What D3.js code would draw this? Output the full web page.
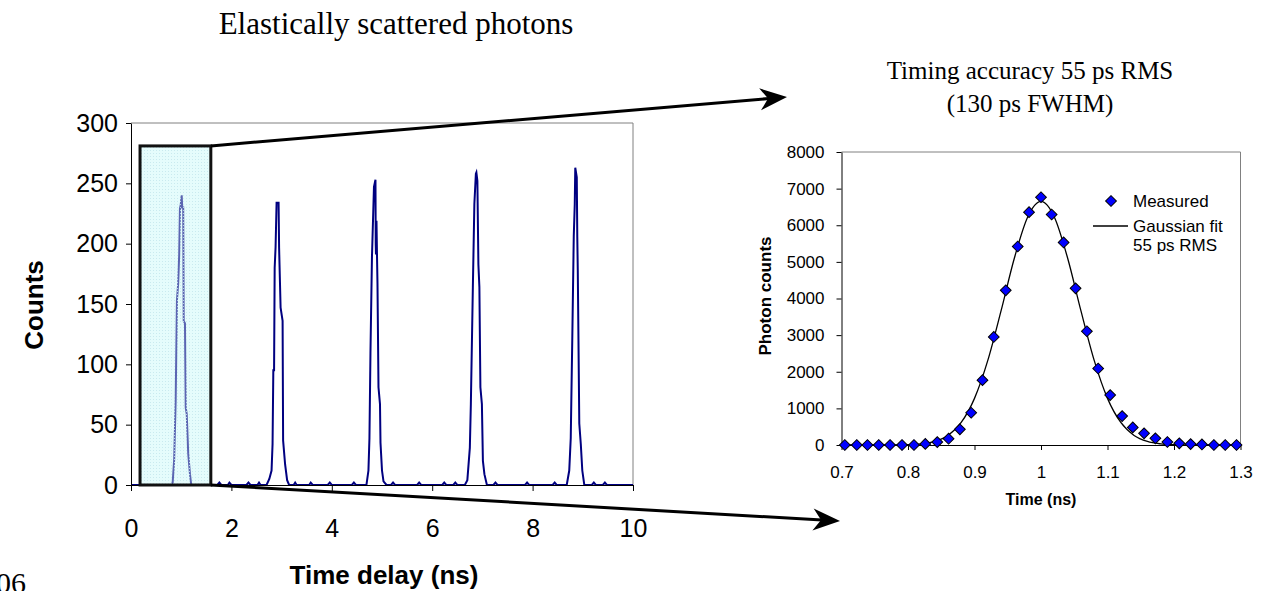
<!DOCTYPE html>
<html>
<head>
<meta charset="utf-8">
<script src="https://cdn.jsdelivr.net/npm/d3@7"></script>
<style>
  body { margin: 0; background: #fff; }
</style>
</head>
<body>
<script>
// ---- left chart: time delay histogram, [ns, counts] ----
const peak1 = [[0.80,0],[0.83,2],[0.86,21],[0.89,70],[0.915,153],[0.94,167],[0.96,191],[0.975,229],[0.99,232],[1.01,240],[1.02,230],[1.04,230],[1.05,136],[1.075,134],[1.09,64],[1.11,59],[1.14,26],[1.175,9],[1.20,0]];
const peak2 = [[2.70,0],[2.755,5],[2.80,12],[2.82,34],[2.835,95],[2.85,95],[2.862,180],[2.88,197],[2.90,234],[2.94,234],[2.95,197],[2.98,147],[3.02,136],[3.03,37],[3.07,17],[3.11,4],[3.15,0]];
const peak3 = [[4.69,0],[4.73,12],[4.75,39],[4.77,109],[4.80,189],[4.84,247],[4.87,253],[4.875,200],[4.88,191],[4.89,219],[4.90,191],[4.91,167],[4.93,81],[4.96,67],[4.97,35],[5.00,12],[5.03,3],[5.09,0]];
const peak4 = [[6.65,0],[6.70,4],[6.75,31],[6.77,67],[6.81,164],[6.84,233],[6.87,258],[6.88,259],[6.90,252],[6.92,183],[6.94,164],[6.96,81],[6.99,67],[7.01,20],[7.04,9],[7.09,0]];
const peak5 = [[8.68,0],[8.73,12],[8.76,39],[8.79,120],[8.82,206],[8.84,233],[8.85,263],[8.88,255],[8.89,206],[8.90,178],[8.93,51],[8.96,34],[8.99,12],[9.03,0]];
const baseline = [[0,0],[1.72,0],[1.76,2],[1.80,0],[1.93,0],[1.96,2],[2.0,0],[2.30,0],[2.34,2],[2.38,0],[2.52,0],[2.55,2],[2.58,0],
  [3.24,0],[3.27,2],[3.30,0],[3.55,0],[3.58,2],[3.62,0],[3.92,0],[3.96,2],[4.0,0],[4.40,0],[4.44,2],[4.48,0],
  [5.18,0],[5.22,2],[5.26,0],[5.70,0],[5.74,2],[5.78,0],[6.20,0],[6.24,2],[6.28,0],[6.42,0],[6.46,2],[6.50,0],
  [7.22,0],[7.26,2],[7.30,0],[7.85,0],[7.89,2],[7.93,0],[8.40,0],[8.44,2],[8.48,0],
  [9.18,0],[9.22,2],[9.26,0],[9.40,0],[9.44,2],[9.48,0],[10,0]];
const delayTicks = [0, 2, 4, 6, 8, 10];
const countTicks = [0, 50, 100, 150, 200, 250, 300];
const zoomBox = [0.18, 1.59, 281];   // t0, t1, counts

// ---- right chart: single peak ----
const measuredTime = [0.705,0.723,0.739,0.756,0.773,0.791,0.809,0.826,0.844,0.861,0.878,0.895,0.912,0.929,0.947,0.965,0.982,1.000,1.016,1.034,1.052,1.069,1.086,1.104,1.122,1.138,1.155,1.172,1.190,1.208,1.225,1.242,1.260,1.277,1.294];
const measuredCounts = [0,0,0,0,0,0,0,30,80,172,427,880,1770,2950,4222,5420,6357,6765,6293,5530,4277,3105,2089,1362,790,481,318,182,82,45,25,15,0,0,0];
const fitTime = [0.70,0.72,0.74,0.76,0.78,0.80,0.82,0.84,0.86,0.88,0.90,0.92,0.94,0.96,0.98,1.00,1.02,1.04,1.06,1.08,1.10,1.12,1.14,1.16,1.18,1.20,1.22,1.24,1.26,1.28,1.30];
const fitCounts = [0,0,0,1,2,9,31,97,261,615,1273,2309,3668,5105,6225,6650,6225,5105,3668,2309,1273,615,261,97,31,9,2,1,0,0,0];
const timeTicks = [0.7, 0.8, 0.9, 1.0, 1.1, 1.2, 1.3];
const photonTicks = [0, 1000, 2000, 3000, 4000, 5000, 6000, 7000, 8000];

const arial = "'Liberation Sans', Arial, sans-serif";
const times = "'Liberation Serif', 'Times New Roman', serif";

const svg = d3.select("body").append("svg")
  .attr("width", 1271)
  .attr("height", 591);

const defs = svg.append("defs");
const pat = defs.append("pattern")
  .attr("id", "dots")
  .attr("width", 3).attr("height", 3)
  .attr("patternUnits", "userSpaceOnUse");
pat.append("rect").attr("width", 3).attr("height", 3).attr("fill", "rgba(228,252,252,0.4)");
pat.append("rect").attr("width", 1).attr("height", 1).attr("fill", "rgba(195,230,236,0.85)");

// ================= left chart =================
const xL = d3.scaleLinear().domain([0, 10]).range([131, 633]);
const yL = d3.scaleLinear().domain([0, 300]).range([485, 123]);

// frame
svg.append("path")
  .attr("d", `M${xL(0)},${yL(300)}H${xL(10)}V${yL(0)}`)
  .attr("fill", "none")
  .attr("stroke", "#808080")
  .attr("stroke-width", 1);

const spectrum = [].concat(baseline, peak1, peak2, peak3, peak4, peak5)
  .sort((a, b) => a[0] - b[0]);

// light cyan under the box region
svg.append("rect")
  .attr("x", xL(zoomBox[0]))
  .attr("y", yL(zoomBox[2]))
  .attr("width", xL(zoomBox[1]) - xL(zoomBox[0]))
  .attr("height", yL(0) - yL(zoomBox[2]))
  .attr("fill", "#e6fbfb");

svg.append("path")
  .datum(spectrum)
  .attr("fill", "none")
  .attr("stroke", "#000080")
  .attr("stroke-width", 2)
  .attr("d", d3.line().x(d => xL(d[0])).y(d => yL(d[1])));

const axL = svg.append("g")
  .attr("transform", `translate(${xL(0)},0)`)
  .call(d3.axisLeft(yL).tickValues(countTicks).tickSize(5).tickSizeOuter(0).tickPadding(8));
const axB = svg.append("g")
  .attr("transform", `translate(0,${yL(0)})`)
  .call(d3.axisBottom(xL).tickValues(delayTicks).tickSize(6).tickSizeOuter(0).tickPadding(28));
[axL, axB].forEach(g => {
  g.selectAll("text").attr("font-family", arial).attr("font-size", "25px").attr("fill", "#000");
  g.selectAll("line, path").attr("stroke", "#000");
});

// highlighted region
svg.append("rect")
  .attr("x", xL(zoomBox[0]))
  .attr("y", yL(zoomBox[2]))
  .attr("width", xL(zoomBox[1]) - xL(zoomBox[0]))
  .attr("height", yL(0) - yL(zoomBox[2]))
  .attr("fill", "url(#dots)")
  .attr("stroke", "#111")
  .attr("stroke-width", 3);

svg.append("text")
  .attr("transform", "translate(43,305) rotate(-90)")
  .attr("text-anchor", "middle")
  .attr("font-family", arial)
  .attr("font-weight", "bold")
  .attr("font-size", "26px")
  .text("Counts");

svg.append("text")
  .attr("x", 384).attr("y", 584)
  .attr("text-anchor", "middle")
  .attr("font-family", arial)
  .attr("font-weight", "bold")
  .attr("font-size", "26px")
  .text("Time delay (ns)");

svg.append("text")
  .attr("x", 396).attr("y", 34)
  .attr("text-anchor", "middle")
  .attr("font-family", times)
  .attr("font-size", "31px")
  .text("Elastically scattered photons");

svg.append("text")
  .attr("x", -4).attr("y", 593)
  .attr("font-family", times)
  .attr("font-size", "30px")
  .text("06");

// ================= right chart =================
const xR = d3.scaleLinear().domain([0.7, 1.3]).range([841.5, 1240.5]);
const yR = d3.scaleLinear().domain([0, 8000]).range([445, 152]);

svg.append("path")
  .attr("d", `M${xR(0.7)},${yR(8000)}H${xR(1.3)}V${yR(0)}`)
  .attr("fill", "none")
  .attr("stroke", "#808080")
  .attr("stroke-width", 1);

const axL2 = svg.append("g")
  .attr("transform", `translate(${xR(0.7)},0)`)
  .call(d3.axisLeft(yR).tickValues(photonTicks).tickFormat(d3.format("d")).tickSize(5).tickSizeOuter(0).tickPadding(12));
const axB2 = svg.append("g")
  .attr("transform", `translate(0,${yR(0)})`)
  .call(d3.axisBottom(xR).tickValues(timeTicks).tickFormat(d => d === 1 ? "1" : d3.format(".1f")(d)).tickSize(5).tickSizeOuter(0).tickPadding(16));
[axL2, axB2].forEach(g => {
  g.selectAll("text").attr("font-family", arial).attr("font-size", "17px").attr("fill", "#000");
  g.selectAll("line, path").attr("stroke", "#000");
});

svg.append("path")
  .datum(d3.zip(fitTime, fitCounts))
  .attr("fill", "none")
  .attr("stroke", "#000")
  .attr("stroke-width", 1.3)
  .attr("d", d3.line().curve(d3.curveMonotoneX).x(d => xR(d[0])).y(d => yR(d[1])));

const diamond = d3.symbol(d3.symbolSquare, 58);
svg.append("g").selectAll("path")
  .data(d3.zip(measuredTime, measuredCounts))
  .join("path")
    .attr("d", diamond)
    .attr("transform", d => `translate(${xR(d[0])},${yR(d[1])}) rotate(45)`)
    .attr("fill", "#0000ff")
    .attr("stroke", "#000")
    .attr("stroke-width", 1);

// legend
svg.append("path")
  .attr("d", diamond)
  .attr("transform", "translate(1111,201) rotate(45)")
  .attr("fill", "#0000ff").attr("stroke", "#000");
svg.append("line")
  .attr("x1", 1093).attr("x2", 1128).attr("y1", 226).attr("y2", 226)
  .attr("stroke", "#000").attr("stroke-width", 1.3);
const leg = svg.append("text")
  .attr("font-family", arial)
  .attr("font-size", "17px");
leg.append("tspan").attr("x", 1133).attr("y", 207).text("Measured");
leg.append("tspan").attr("x", 1133).attr("y", 232).text("Gaussian fit");
leg.append("tspan").attr("x", 1133).attr("y", 251).text("55 ps RMS");

svg.append("text")
  .attr("transform", "translate(771,296) rotate(-90)")
  .attr("text-anchor", "middle")
  .attr("font-family", arial)
  .attr("font-weight", "bold")
  .attr("font-size", "17px")
  .text("Photon counts");

svg.append("text")
  .attr("x", xR(1)).attr("y", 505)
  .attr("text-anchor", "middle")
  .attr("font-family", arial)
  .attr("font-weight", "bold")
  .attr("font-size", "16px")
  .text("Time (ns)");

const title2 = svg.append("text")
  .attr("text-anchor", "middle")
  .attr("font-family", times)
  .attr("font-size", "25px");
title2.append("tspan").attr("x", 1030).attr("y", 79).text("Timing accuracy 55 ps RMS");
title2.append("tspan").attr("x", 1030).attr("y", 112).text("(130 ps FWHM)");

// ================= zoom arrows =================
function arrow(x1, y1, x2, y2) {
  const a = Math.atan2(y2 - y1, x2 - x1);
  const back = 18;
  svg.append("line")
    .attr("x1", x1).attr("y1", y1)
    .attr("x2", x2 - back * Math.cos(a)).attr("y2", y2 - back * Math.sin(a))
    .attr("stroke", "#000").attr("stroke-width", 3);
  svg.append("path")
    .attr("d", "M0,0L-27,-11L-19,0L-27,11Z")
    .attr("transform", `translate(${x2},${y2}) rotate(${a * 180 / Math.PI})`)
    .attr("fill", "#000");
}
arrow(xL(zoomBox[1]), yL(zoomBox[2]), 787, 97);
arrow(xL(zoomBox[1]), yL(0), 840, 521);
</script>
</body>
</html>
